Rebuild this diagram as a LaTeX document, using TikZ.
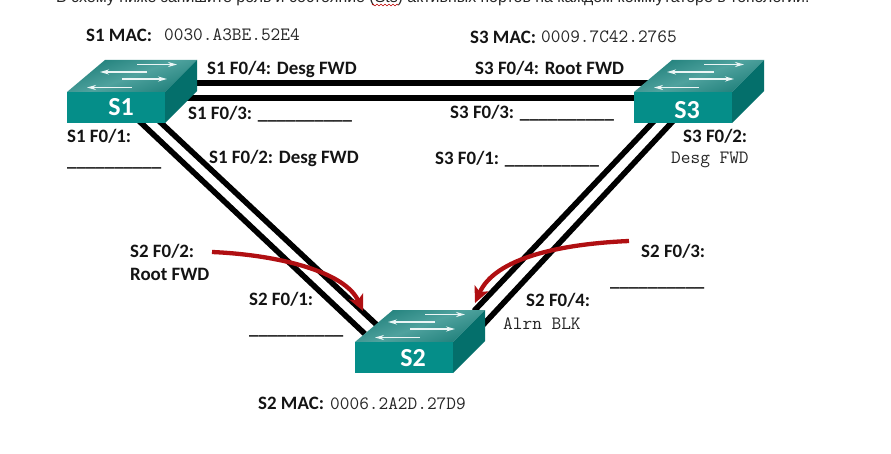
\documentclass[tikz,border=0pt]{standalone}
\usepackage{fontspec}
\setmainfont{Carlito}
\newfontfamily\topfont{Liberation Sans}
\usetikzlibrary{arrows.meta,decorations.pathmorphing}
\definecolor{swfront}{HTML}{058E89}
\definecolor{swside}{HTML}{046F6B}
\definecolor{swtop}{HTML}{1F7F7A}
\definecolor{swlight}{HTML}{4FA29E}
\definecolor{redarrow}{HTML}{B00F12}
\tikzset{
  x=1pt,y=-1pt,
  lab/.style={font=\fontsize{18.9}{22}\selectfont\bfseries,anchor=base west,inner sep=0pt,text=black!92},
  mono/.style={font=\fontsize{18.8}{22}\selectfont\ttfamily,anchor=base west,inner sep=0pt,text=black!85},
  swname/.style={font=\fontsize{26}{30}\selectfont\bfseries,text=white,inner sep=0pt},
  cable/.style={line width=5.6pt,black},
  redcurve/.style={line width=4.3pt,redarrow,-{Stealth[length=16pt,width=15pt,inset=4pt]}},
  white arrow/.style={white!92!teal,line width=1.5pt,-{Stealth[length=9pt,width=5pt]}},
}
% #1 = origin (left end of the top edge of the front face, px)
\newcommand{\switchbody}[1]{%
  \begin{scope}[shift={#1}]
    \shade[left color=swtop,right color=swtop,middle color=swlight,shading angle=20] (0,0) -- (38,-32) -- (130,-32) -- (98,0) -- cycle;
    \fill[swfront] (0,0) rectangle (98,31);
    \fill[swside] (98,0) -- (130,-32) -- (130,-1) -- (98,31) -- cycle;
    \draw[white arrow] (70,-27.5) -- (110,-27.5);
    \draw[white arrow] (80,-20) -- (33,-20);
    \draw[white arrow] (55,-13) -- (100,-13);
    \draw[white arrow] (65,-4.5) -- (20,-4.5);
  \end{scope}}
\begin{document}
\begin{tikzpicture}
\useasboundingbox (0,0) rectangle (891,454);
\fill[white] (0,0) rectangle (891,454);

% instruction line, cut off by the top edge as in the reference
\begin{scope}
\clip (0,0) rectangle (891,454);
\node[font=\fontsize{15.9}{18}\selectfont\topfont,anchor=base west,inner sep=0pt,text=black!85] (intro) at (56,2.5)
  {В схему ниже запишите роль и состояние (Sts) активных портов на каждом коммутаторе в топологии.};
\end{scope}
\draw[red!75!black,line width=0.5pt,decorate,decoration={zigzag,amplitude=0.9pt,segment length=4pt}] (372,5) -- (398,5);

% cable end points
\coordinate (a1) at (190,83);  \coordinate (b1) at (650,83);
\coordinate (a2) at (160,98);  \coordinate (b2) at (640,98);
\coordinate (c1) at (138,120); \coordinate (d1) at (365,334);
\coordinate (c2) at (158,120); \coordinate (d2) at (378,326);
\coordinate (e1) at (655,120); \coordinate (f1) at (474,311);
\coordinate (e2) at (674,120); \coordinate (f2) at (482,326);
\draw[cable] (a1) -- (b1);
\draw[cable] (a2) -- (b2);
\draw[cable] (c1) -- (d1);
\draw[cable] (c2) -- (d2);
\draw[cable] (e1) -- (f1);
\draw[cable] (e2) -- (f2);

\switchbody{(67,92)}
\switchbody{(634,92)}
\switchbody{(355,342)}
\node[swname] (s1) at (121,107) {S1};
\node[swname] (s3) at (687,110) {S3};
\node[swname] (s2) at (413,358) {S2};

% red arrows
\coordinate (r1s) at (212,252); \coordinate (r1e) at (363,311);
\coordinate (r2s) at (629,241); \coordinate (r2e) at (475,303);
\draw[redcurve] (r1s) .. controls (280,255) and (345,272) .. (r1e);
\draw[redcurve] (r2s) .. controls (560,244) and (495,258) .. (r2e);

% labels
\node[lab]  (t1)  at (86,41.5)   {S1 MAC:};
\node[mono] (m1)  at (164,41)  {0030.A3BE.52E4};
\node[lab]  (t3)  at (470,43.5)  {S3 MAC:};
\node[mono] (m3)  at (541,43)  {0009.7C42.2765};
\node[lab]  (t2)  at (258,409.5) {S2 MAC:};
\node[mono] (m2)  at (330,409) {0006.2A2D.27D9};

\node[lab] (l14) at (207,74.5)  {S1 F0/4: Desg FWD};
\node[lab] (l13) at (188,119.5) {S1 F0/3: \_\_\_\_\_\_\_\_\_\_};
\node[lab] (l11) at (67,142.5)  {S1 F0/1:};
\node[lab] (l11b) at (67,166.5) {\_\_\_\_\_\_\_\_\_\_};
\node[lab] (l12) at (209,163.5) {S1 F0/2: Desg FWD};

\node[lab] (l34) at (475,74.5)  {S3 F0/4: Root FWD};
\node[lab] (l33) at (450,118.5) {S3 F0/3: \_\_\_\_\_\_\_\_\_\_};
\node[lab] (l31) at (435,164.5) {S3 F0/1: \_\_\_\_\_\_\_\_\_\_};
\node[lab] (l32) at (683,142.5) {S3 F0/2:};
\node[mono] (l32b) at (671,164) {Desg FWD};

\node[lab] (l22) at (130,257.5) {S2 F0/2:};
\node[lab] (l22b) at (130,280.5) {Root FWD};
\node[lab] (l21) at (249,305.5) {S2 F0/1:};
\node[lab] (l21b) at (249,334.5) {\_\_\_\_\_\_\_\_\_\_};
\node[lab] (l23) at (641,257.5) {S2 F0/3:};
\node[lab] (l23b) at (610,286.5) {\_\_\_\_\_\_\_\_\_\_};
\node[lab] (l24) at (526,306.5) {S2 F0/4:};
\node[mono] (l24b) at (503,329) {Alrn BLK};
\end{tikzpicture}
\end{document}
